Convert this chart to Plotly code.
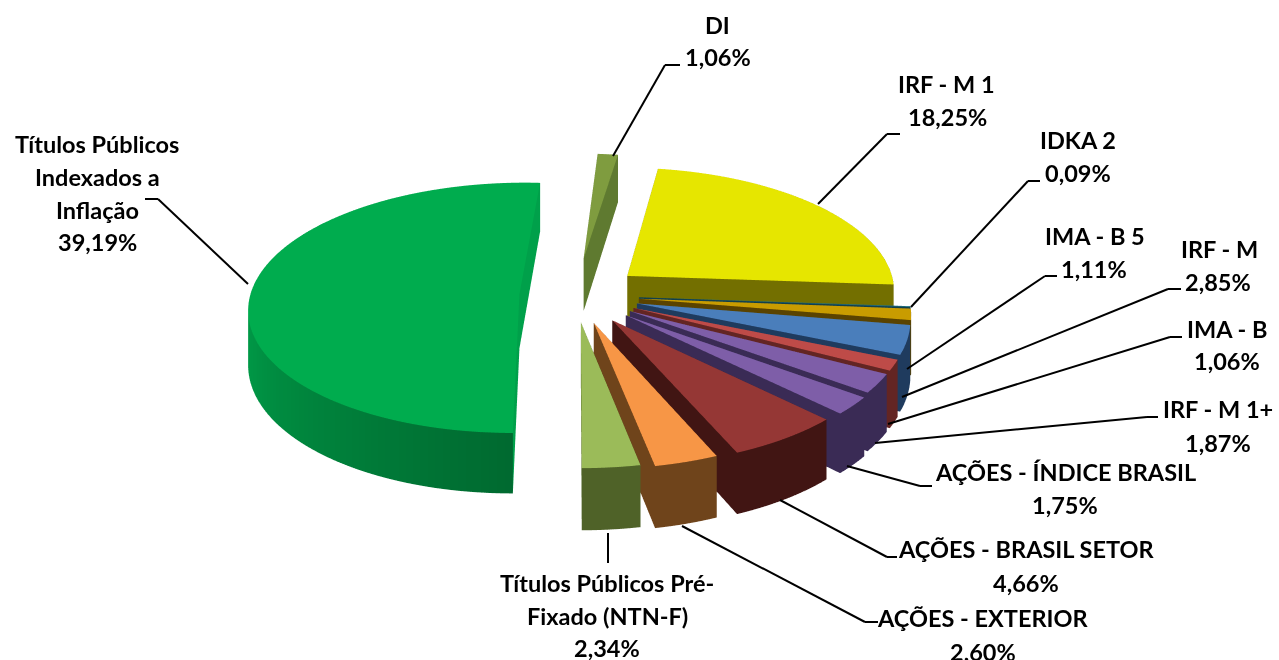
import math
import plotly.graph_objects as go

# ---- data ----
names = ["DI", "IRF - M 1", "IDKA 2", "IMA - B 5", "IRF - M", "IMA - B", "IRF - M 1+",
         "AÇÕES - ÍNDICE BRASIL", "AÇÕES - BRASIL SETOR", "AÇÕES - EXTERIOR",
         "Títulos Públicos Pré-Fixado (NTN-F)", "Títulos Públicos Indexados a Inflação"]
values = [1.06, 18.25, 0.09, 1.11, 2.85, 1.06, 1.87, 1.75, 4.66, 2.60, 2.34, 39.19]

# ---- style ----
top_colors = ["#7F9C3F", "#E6E600", "#1F6F80", "#C99C00", "#4A7EBB", "#BE4B48", "#7E5EA8",
              "#7E5EA8", "#953735", "#F79646", "#9BBB59", "#00AC4E"]
wall_colors = ["#5F7A30", "#6E6C00", "#123F4C", "#5A4300", "#1F3B5E", "#632523", "#3A2B55",
               "#3A2B55", "#411513", "#6F441B", "#4F6228", "#007A38"]
face_colors = ["#5F7A30", "#736F00", "#123F4C", "#5A4300", "#1F3B5E", "#632523", "#3A2B55",
               "#3A2B55", "#411513", "#6F441B", "#4F6228", "#00A04A"]
pulls = [82, 68, 64, 64, 64, 64, 64, 66, 65, 62, 58, 56]
START = 3.6
RADIUS = 270
DEPTH = 61
PERSP = 0.0004   # foreshortening of the tilted 3-D pie
W, H = 1279, 660

def rgb(h):
    return tuple(int(h[i:i + 2], 16) for i in (1, 3, 5))

def hexc(c):
    return "#%02x%02x%02x" % tuple(int(round(v)) for v in c)

fig = go.Figure()
total = sum(values)
ang = START
for i, v in enumerate(values):
    sweep = v / total * 360
    a0, a1 = ang, ang + sweep
    ang = a1
    mid = math.radians((a0 + a1) / 2)
    ox, oy = pulls[i] * math.sin(mid), pulls[i] * math.cos(mid)
    n = max(2, int(sweep / 1.5) + 1)
    th = [math.radians(a0 + (a1 - a0) * k / (n - 1)) for k in range(n)]
    xs, ys, zs, I, J, K, FC = [], [], [], [], [], [], []

    def add(x, y, z):
        f = 1 / (1 + PERSP * y)
        xs.append(x * f); ys.append(y * f); zs.append(z * f)
        return len(xs) - 1

    apex_t = add(ox, oy, 0)
    apex_b = add(ox, oy, -DEPTH)
    tops = [add(ox + RADIUS * math.sin(t), oy + RADIUS * math.cos(t), 0) for t in th]
    bots = [add(ox + RADIUS * math.sin(t), oy + RADIUS * math.cos(t), -DEPTH) for t in th]
    for k in range(n - 1):
        I.append(apex_t); J.append(tops[k]); K.append(tops[k + 1]); FC.append(top_colors[i])
        deg = math.degrees(th[k])
        col = wall_colors[i]
        if sweep > 100:  # the large slice: wall darkens towards the viewer
            s = min(1, max(0, (deg - 180) / 90))
            c0, c1 = rgb("#006A30"), rgb("#00A04A")
            col = hexc([c0[q] + (c1[q] - c0[q]) * s for q in range(3)])
        I += [tops[k], tops[k]]; J += [bots[k], bots[k + 1]]; K += [bots[k + 1], tops[k + 1]]
        FC += [col, col]
    for e, b in ((tops[0], bots[0]), (tops[-1], bots[-1])):
        I += [apex_t, apex_t]; J += [apex_b, b]; K += [b, e]
        FC += [face_colors[i], face_colors[i]]
    fig.add_trace(go.Mesh3d(x=xs, y=ys, z=zs, i=I, j=J, k=K, facecolor=FC, flatshading=True,
                            lighting=dict(ambient=1, diffuse=0, specular=0, roughness=1, fresnel=0),
                            hoverinfo="skip", showscale=False, name=names[i]))

hidden = dict(visible=False, range=[-520, 520], autorange=False)
D = 2.0
PX_PER_UNIT = 662 / D
ASPECT = 1040 / PX_PER_UNIT
el = math.radians(27.4)
cx, cy, cz = 64.5 / PX_PER_UNIT, 0, -35 / math.cos(el) / PX_PER_UNIT
fig.update_layout(
    width=W, height=H, margin=dict(l=0, r=0, t=0, b=0), paper_bgcolor="white", showlegend=False,
    scene=dict(
        domain=dict(x=[0, 1], y=[0, 1]),
        xaxis=hidden, yaxis=hidden, zaxis=hidden,
        aspectmode="manual", aspectratio=dict(x=ASPECT, y=ASPECT, z=ASPECT),
        camera=dict(eye=dict(x=cx, y=cy - D * math.cos(el), z=cz + D * math.sin(el)),
                    center=dict(x=cx, y=cy, z=cz), up=dict(x=0, y=0, z=1),
                    projection=dict(type="orthographic")),
    ),
)

# ---- text: (line, centre x px, centre y px) ----
texts = [
    ("DI", 718, 25), ("1,06%", 718, 57),
    ("IRF - M 1", 946, 84), ("18,25%", 947, 117),
    ("IDKA 2", 1078, 140), ("0,09%", 1078, 173),
    ("IMA - B 5", 1095, 236), ("1,11%", 1094, 269),
    ("IRF - M", 1219, 249), ("2,85%", 1218, 282),
    ("IMA - B", 1227, 329), ("1,06%", 1227, 361),
    ("IRF - M 1+", 1218, 409), ("1,87%", 1218, 443),
    ("AÇÕES - ÍNDICE BRASIL", 1065, 472), ("1,75%", 1065, 505),
    ("AÇÕES - BRASIL SETOR", 1026, 549), ("4,66%", 1026, 583),
    ("AÇÕES - EXTERIOR", 983, 618), ("2,60%", 983, 652),
    ("Títulos Públicos Pré-", 607, 583), ("Fixado (NTN-F)", 607, 616), ("2,34%", 607, 648),
    ("Títulos Públicos", 97, 144), ("Indexados a", 97, 177), ("Inflação", 97, 210), ("39,19%", 97, 242),
]
for t, x, y in texts:
    fig.add_annotation(text=t, x=x / W, y=1 - y / H, xref="paper", yref="paper", showarrow=False,
                       xanchor="center", yanchor="middle",
                       font=dict(family="Lato", size=23.5, color="#000000", weight="bold"))

# ---- leader lines, pixel polylines ----
leaders = [
    [(613, 156), (665, 65), (680, 65)],
    [(818, 204), (887, 134), (900, 134)],
    [(911, 307), (1028, 181), (1040, 181)],
    [(907, 369), (1045, 276), (1057, 276)],
    [(902, 397), (1168, 289), (1181, 289)],
    [(888, 424), (1170, 337), (1182, 337)],
    [(875, 443), (1147, 417), (1158, 417)],
    [(847, 466), (920, 486), (932, 486)],
    [(780, 500), (887, 557), (897, 557)],
    [(682, 526), (865, 622), (878, 622)],
    [(608, 533), (608, 563)],
    [(248, 284), (158, 199), (145, 199)],
]
for pts in leaders:
    for (x0, y0), (x1, y1) in zip(pts, pts[1:]):
        fig.add_shape(type="line", xref="paper", yref="paper", x0=x0 / W, x1=x1 / W,
                      y0=1 - y0 / H, y1=1 - y1 / H, line=dict(color="black", width=2))

fig.write_html("out.html", config=dict(displayModeBar=False),
               post_script="document.body.style.margin='0';document.body.style.overflow='hidden';")
